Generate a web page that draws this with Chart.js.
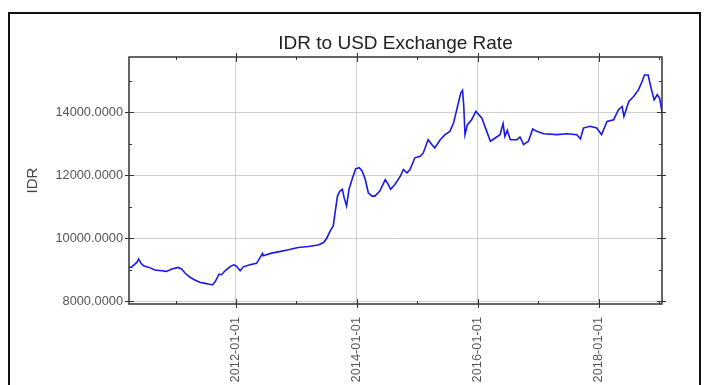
<!DOCTYPE html>
<html>
<head>
<meta charset="utf-8">
<title>IDR to USD Exchange Rate</title>
<script src="https://cdn.jsdelivr.net/npm/chart.js@4.4.1/dist/chart.umd.min.js"></script>
<style>
	html, body { margin: 0; padding: 0; background: #fff; }
	#wrap { position: relative; width: 705px; height: 385px; overflow: hidden; }
	#frame {
		position: absolute; left: 8px; top: 12px;
		width: 693px; height: 420px;
		box-sizing: border-box;
		border: 2px solid #111;
	}
	#rateChart { position: absolute; left: 0; top: 0; }
</style>
</head>
<body>
<div id="wrap">
	<div id="frame"></div>
	<canvas id="rateChart" width="705" height="385"></canvas>
</div>
<script>
// date as decimal year
const years = [
	2010.23, 2010.27, 2010.36, 2010.39, 2010.43, 2010.47, 2010.55, 2010.66, 2010.77, 2010.85,
	2010.94, 2011.04, 2011.10, 2011.16, 2011.24, 2011.32, 2011.40, 2011.49, 2011.54, 2011.61,
	2011.66, 2011.72, 2011.76, 2011.82, 2011.90, 2011.96, 2012.00, 2012.07, 2012.12, 2012.23,
	2012.34, 2012.40, 2012.44, 2012.45, 2012.59, 2012.70, 2012.87, 2013.03, 2013.20, 2013.36,
	2013.45, 2013.50, 2013.56, 2013.61, 2013.64, 2013.68, 2013.72, 2013.76, 2013.79, 2013.83,
	2013.87, 2013.93, 2013.98, 2014.04, 2014.09, 2014.14, 2014.19, 2014.25, 2014.30, 2014.38,
	2014.47, 2014.52, 2014.56, 2014.63, 2014.72, 2014.77, 2014.83, 2014.88, 2014.96, 2015.05,
	2015.10, 2015.18, 2015.24, 2015.29, 2015.38, 2015.46, 2015.54, 2015.60, 2015.64, 2015.68,
	2015.72, 2015.75, 2015.77, 2015.79, 2015.83, 2015.90, 2015.97, 2016.07, 2016.15, 2016.21,
	2016.29, 2016.37, 2016.42, 2016.45, 2016.49, 2016.54, 2016.65, 2016.70, 2016.76, 2016.84,
	2016.91, 2016.98, 2017.09, 2017.31, 2017.48, 2017.64, 2017.70, 2017.75, 2017.86, 2017.97,
	2018.05, 2018.14, 2018.25, 2018.33, 2018.39, 2018.42, 2018.50, 2018.58, 2018.66, 2018.72,
	2018.76, 2018.82, 2018.87, 2018.92, 2018.97, 2019.01, 2019.05
];

const rates = [
	9080, 9090, 9240, 9345, 9210, 9135, 9090, 9000, 8975, 8955,
	9030, 9080, 9030, 8895, 8770, 8680, 8610, 8575, 8555, 8525,
	8640, 8870, 8850, 8975, 9100, 9165, 9135, 8975, 9100, 9165,
	9210, 9400, 9525, 9450, 9535, 9575, 9640, 9715, 9745, 9790,
	9870, 10000, 10240, 10400, 10820, 11345, 11505, 11560, 11295, 11030,
	11560, 11925, 12210, 12245, 12135, 11870, 11450, 11345, 11345, 11505,
	11870, 11715, 11560, 11715, 11980, 12190, 12085, 12190, 12560, 12610,
	12715, 13135, 12980, 12875, 13135, 13295, 13400, 13665, 13980, 14300,
	14615, 14700, 14190, 13295, 13610, 13770, 14030, 13820, 13400, 13085,
	13190, 13295, 13645, 13240, 13430, 13135, 13135, 13220, 12980, 13085,
	13475, 13400, 13325, 13295, 13325, 13295, 13160, 13505, 13560, 13505,
	13295, 13715, 13770, 14085, 14190, 13875, 14350, 14505, 14715, 14980,
	15190, 15190, 14770, 14400, 14560, 14455, 14030
];

const xMajor = [2012, 2014, 2016, 2018];
const xMinor = [2011, 2013, 2015, 2017, 2019];
const yMajor = [8000, 10000, 12000, 14000];
const yMinor = [9000, 11000, 13000, 15000];

const chartTitle = 'IDR to USD Exchange Rate';

// title centred over the plot box, not over the whole canvas
const plotTitle = {
	id: 'plotTitle',
	afterDraw(chart) {
		const { ctx, chartArea: a } = chart;
		ctx.save();
		ctx.font = "19px 'Liberation Sans', Arial, sans-serif";
		ctx.fillStyle = '#222';
		ctx.textAlign = 'center';
		ctx.textBaseline = 'middle';
		ctx.fillText(chartTitle, (a.left + a.right) / 2, 44);
		ctx.restore();
	}
};

// box around the plot with ticks on all four sides
const boxTicks = {
	id: 'boxTicks',
	afterDatasetsDraw(chart) {
		const { ctx, chartArea: a, scales } = chart;
		ctx.save();
		ctx.strokeStyle = '#333';
		ctx.lineWidth = 1.5;
		ctx.strokeRect(a.left, a.top, a.right - a.left, a.bottom - a.top);

		ctx.lineWidth = 1;
		ctx.beginPath();
		const tickX = (vals, outLen, inLen) => {
			vals.forEach(v => {
				const px = Math.round(scales.x.getPixelForValue(v)) + 0.5;
				if (px < a.left || px > a.right) return;
				ctx.moveTo(px, a.bottom + outLen); ctx.lineTo(px, a.bottom - inLen);
				ctx.moveTo(px, a.top - outLen); ctx.lineTo(px, a.top + inLen);
			});
		};
		const tickY = (vals, outLen, inLen) => {
			vals.forEach(v => {
				const py = Math.round(scales.y.getPixelForValue(v)) + 0.5;
				if (py < a.top || py > a.bottom) return;
				ctx.moveTo(a.left - outLen, py); ctx.lineTo(a.left + inLen, py);
				ctx.moveTo(a.right + outLen, py); ctx.lineTo(a.right - inLen, py);
			});
		};
		tickX(xMajor, 4, 5);
		tickX(xMinor, 0, 3);
		tickY(yMajor, 4, 5);
		tickY(yMinor, 0, 3);
		ctx.stroke();
		ctx.restore();
	}
};

document.addEventListener("DOMContentLoaded", () => {
	Chart.defaults.font.family = "'Liberation Sans', Arial, sans-serif";

	new Chart(document.getElementById('rateChart'), {
		type: 'line',
		data: {
			datasets: [{
				label: 'IDR',
				data: years.map((x, i) => ({ x: x, y: rates[i] })),
				borderColor: '#1a1ae6',
				borderWidth: 1.6,
				pointRadius: 0,
				tension: 0,
				fill: false
			}]
		},
		options: {
			responsive: false,
			animation: false,
			devicePixelRatio: 1,
			layout: { padding: { left: 0, right: 43, top: 57, bottom: 0 } },
			plugins: {
				legend: { display: false },
				tooltip: { enabled: false },
				title: { display: false }
			},
			scales: {
				x: {
					type: 'linear',
					min: 2010.23,
					max: 2019.05,
					afterBuildTicks: s => { s.ticks = xMajor.map(v => ({ value: v })); },
					afterFit: s => { s.height = 81; },
					border: { display: false },
					grid: { color: '#cfcfcf', drawTicks: false },
					ticks: {
						autoSkip: false,
						minRotation: 90,
						maxRotation: 90,
						padding: 13,
						color: '#555',
						font: { size: 12.8 },
						callback: v => v + '-01-01'
					}
				},
				y: {
					min: 7920,
					max: 15760,
					afterBuildTicks: s => { s.ticks = yMajor.map(v => ({ value: v })); },
					afterFit: s => { s.width = 129; },
					border: { display: false },
					grid: { color: '#cfcfcf', drawTicks: false },
					ticks: {
						padding: 6,
						color: '#555',
						font: { size: 12.8 },
						callback: v => Number(v).toFixed(4)
					},
					title: {
						display: true,
						text: 'IDR',
						color: '#444',
						font: { size: 15 },
						padding: { top: 24, bottom: 0 }
					}
				}
			}
		},
		plugins: [boxTicks, plotTitle]
	});
});
</script>
</body>
</html>
